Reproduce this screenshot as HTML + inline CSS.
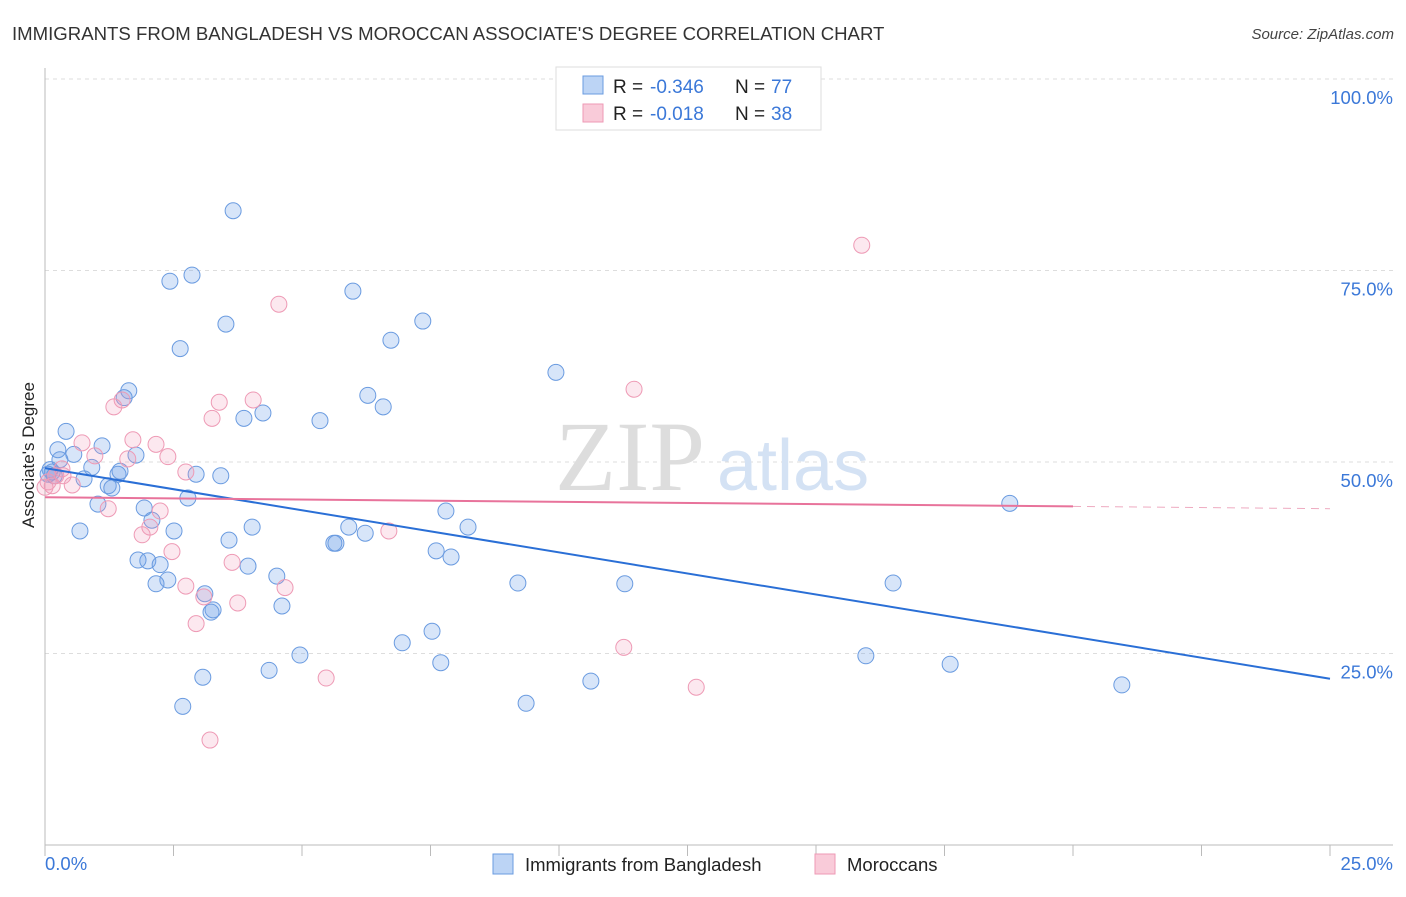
<!DOCTYPE html>
<html><head><meta charset="utf-8"><style>
body{margin:0;background:#fff;font-family:"Liberation Sans",sans-serif;}
svg text{font-family:"Liberation Sans",sans-serif;}
</style></head><body>
<svg id="chart" width="1406" height="892" xmlns="http://www.w3.org/2000/svg">
<text x="12" y="40" font-size="18.6" fill="#333">IMMIGRANTS FROM BANGLADESH VS MOROCCAN ASSOCIATE'S DEGREE CORRELATION CHART</text>
<text x="1394" y="39" font-size="15" fill="#444" text-anchor="end" font-style="italic">Source: ZipAtlas.com</text>
<g id="grid"></g>
<text x="555" y="490" font-size="100" fill="#ddd" style="font-family:'Liberation Serif',serif">ZIP</text>
<text x="717" y="490" font-size="72" fill="#d4e2f4">atlas</text>
<g id="pts"></g>
<g id="lines"></g>
<text transform="translate(34,455) rotate(-90)" font-size="17" fill="#222" text-anchor="middle">Associate's Degree</text>
<text x="45" y="870" font-size="18.5" fill="#3b78d8">0.0%</text>
<text x="1393" y="870" font-size="18.5" fill="#3b78d8" text-anchor="end">25.0%</text>
<g>
<rect x="556" y="67" width="265" height="63" fill="#fff" stroke="#ddd"/>
<rect x="583" y="76" width="20" height="18" fill="#bcd4f5" stroke="#6a9be0"/>
<rect x="583" y="104" width="20" height="18" fill="#f9cbd9" stroke="#ee9ab5"/>
<text x="613" y="93" font-size="19" fill="#222">R =</text>
<text x="650" y="93" font-size="19" fill="#3b78d8">-0.346</text>
<text x="735" y="93" font-size="19" fill="#222">N =</text>
<text x="771" y="93" font-size="19" fill="#3b78d8">77</text>
<text x="613" y="120" font-size="19" fill="#222">R =</text>
<text x="650" y="120" font-size="19" fill="#3b78d8">-0.018</text>
<text x="735" y="120" font-size="19" fill="#222">N =</text>
<text x="771" y="120" font-size="19" fill="#3b78d8">38</text>
</g>
<g>
<rect x="493" y="854" width="20" height="20" fill="#bcd4f5" stroke="#6a9be0"/>
<text x="525" y="871" font-size="18.5" fill="#222">Immigrants from Bangladesh</text>
<rect x="815" y="854" width="20" height="20" fill="#f9cbd9" stroke="#ee9ab5"/>
<text x="847" y="871" font-size="18.5" fill="#222">Moroccans</text>
</g>
</svg>
<script>
const blueX=[3.66,2.43,2.86,5.99,3.52,7.35,6.73,2.63,9.94,1.63,6.28,1.54,6.58,3.87,4.24,5.35,0.41,0.25,1.11,0.56,1.77,0.29,0.91,1.42,1.46,0.14,0.76,2.94,3.42,1.23,1.30,2.78,1.03,1.93,2.08,7.80,0.68,2.51,4.03,5.91,6.23,8.23,5.66,5.62,3.58,1.81,2.00,2.24,3.95,7.61,7.90,2.39,2.16,4.51,9.20,11.28,16.50,3.11,3.27,3.23,4.61,7.53,6.95,4.96,4.36,7.70,15.97,17.61,3.07,10.62,20.95,2.68,9.36,18.77,0.10,0.18,0.06];
const blueY=[82.8,73.6,74.4,72.3,68.0,68.4,65.9,64.8,61.7,59.3,58.7,58.4,57.2,55.7,56.4,55.4,54.0,51.6,52.1,51.0,50.9,50.3,49.3,48.4,48.8,48.7,47.8,48.4,48.2,46.9,46.6,45.3,44.5,44.0,42.4,43.6,41.0,41.0,41.5,41.5,40.7,41.5,39.4,39.4,39.8,37.2,37.1,36.6,36.4,38.4,37.6,34.6,34.1,35.1,34.2,34.1,34.2,32.8,30.7,30.4,31.2,27.9,26.4,24.8,22.8,23.8,24.7,23.6,21.9,21.4,20.9,18.1,18.5,44.6,49.0,48.2,48.4];
const pinkX=[15.89,4.55,11.46,1.50,1.34,3.39,4.05,3.25,1.71,2.16,0.72,0.97,1.61,2.39,2.74,0.33,0.53,1.23,2.24,2.04,1.89,2.47,6.69,3.64,2.74,4.67,3.09,3.75,2.94,11.26,5.47,12.67,3.21,0.06,0.14,0.21,0.0,0.35];
const pinkY=[78.3,70.6,59.5,58.1,57.2,57.8,58.1,55.7,52.9,52.3,52.5,50.8,50.4,50.7,48.7,49.1,47.0,43.9,43.6,41.5,40.5,38.3,41.0,36.9,33.8,33.6,32.4,31.6,28.9,25.8,21.8,20.6,13.7,47.4,46.9,48.2,46.7,48.2];
const yTicks=[100,75,50,25];
const yTickLabels=["100.0%","75.0%","50.0%","25.0%"];
const xTicks=[0,2.5,5,7.5,10,12.5,15,17.5,20,22.5,25];
const blueTrend=[49.2,21.7];
const pinkTrend=[45.4,43.9];
const pinkSolidEnd=20;
const NS="http://www.w3.org/2000/svg";
const sx=v=>45+v/25*1285;
const sy=v=>845-v*7.66;
function mk(tag,attrs,parent){const e=document.createElementNS(NS,tag);for(const k in attrs)e.setAttribute(k,attrs[k]);parent.appendChild(e);return e;}
const grid=document.getElementById('grid');
yTicks.forEach((t,i)=>{
 const l=mk('line',{x1:45,x2:1393,y1:sy(t),y2:sy(t),stroke:'#ddd','stroke-dasharray':'4,4'},grid);
 
 
 const tx=mk('text',{x:1393,y:sy(t)+25,'font-size':18.5,fill:'#3b78d8','text-anchor':'end'},grid);
 tx.textContent=yTickLabels[i];
 
 
});
const ax=mk('line',{x1:45,x2:45,y1:68,y2:845,stroke:'#bbb'},grid);


const bx=mk('line',{x1:45,x2:1393,y1:845,y2:845,stroke:'#bbb'},grid);


xTicks.forEach(t=>{
 const l=mk('line',{x1:sx(t),x2:sx(t),y1:845,y2:856,stroke:'#bbb'},grid);
 
 
});
const pts=document.getElementById('pts');
blueX.forEach((x,i)=>{
 const c=mk('circle',{cx:sx(x),cy:sy(blueY[i]),r:8,fill:'rgba(110,160,235,0.28)',stroke:'#6a9be0','stroke-width':1},pts);
 
 
});
pinkX.forEach((x,i)=>{
 const c=mk('circle',{cx:sx(x),cy:sy(pinkY[i]),r:8,fill:'rgba(240,150,180,0.22)',stroke:'#ee9ab5','stroke-width':1},pts);
 
 
});
const lines=document.getElementById('lines');
const b=mk('line',{x1:sx(0),y1:sy(blueTrend[0]),x2:sx(25),y2:sy(blueTrend[1]),stroke:'#2a6fd6','stroke-width':2},lines);


const pAt=x=>pinkTrend[0]+(pinkTrend[1]-pinkTrend[0])*x/25;
const p=mk('line',{x1:sx(0),y1:sy(pinkTrend[0]),x2:sx(pinkSolidEnd),y2:sy(pAt(pinkSolidEnd)),stroke:'#e8739b','stroke-width':2},lines);


const pd=mk('line',{x1:sx(pinkSolidEnd),y1:sy(pAt(pinkSolidEnd)),x2:sx(25),y2:sy(pinkTrend[1]),stroke:'#eeaac0','stroke-width':1,'stroke-dasharray':'8,6'},lines);


</script>
</body></html>
